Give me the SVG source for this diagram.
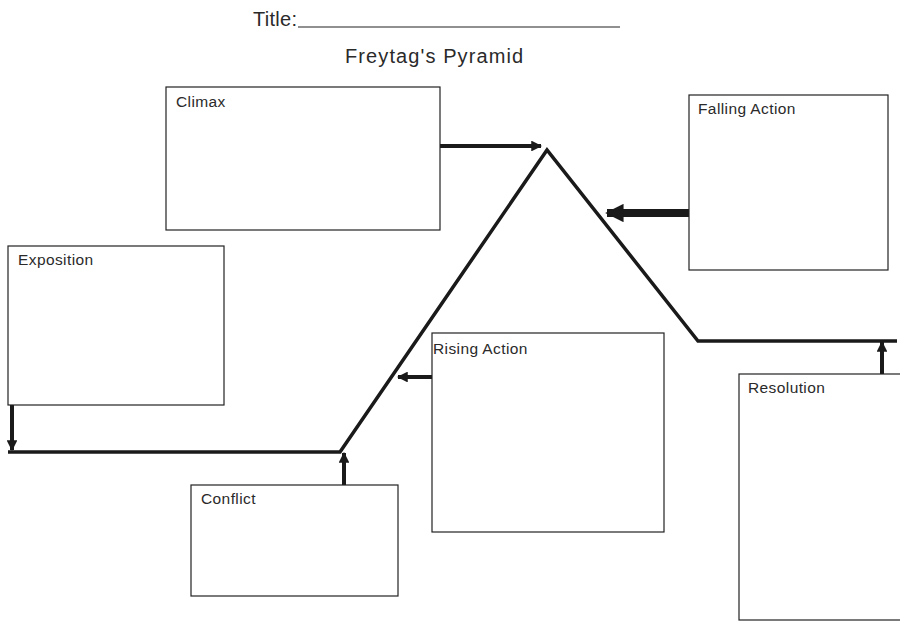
<svg xmlns="http://www.w3.org/2000/svg" width="900" height="621" viewBox="0 0 900 621">
<style>
text{font-family:"Liberation Sans",Arial,sans-serif;fill:#2a2a2a}
.lbl{font-size:15.5px;letter-spacing:0.4px}
.box{fill:#fff;stroke:#222;stroke-width:1.2}
.ar{stroke:#1a1a1a;fill:none}
</style>
<defs>
<marker id="ah" viewBox="0 0 10 10" refX="9" refY="5" markerWidth="2.7" markerHeight="2.7" orient="auto" markerUnits="strokeWidth"><path d="M0,0L10,5L0,10z" fill="#1a1a1a"/></marker>
<marker id="ah2" viewBox="0 0 10 10" refX="9" refY="5" markerWidth="2.3" markerHeight="2.3" orient="auto" markerUnits="strokeWidth"><path d="M0,0L10,5L0,10z" fill="#1a1a1a"/></marker>
</defs>
<rect width="900" height="621" fill="#fff"/>
<g id="title">
<text x="253" y="26" font-size="20" letter-spacing="0.3">Title:</text>
<line x1="298" y1="27" x2="620" y2="27" stroke="#222" stroke-width="1.2"/>
<text x="345" y="63" font-size="20" letter-spacing="1.1">Freytag's Pyramid</text>
</g>
<g id="connectors">
<polyline points="8,452 340,452 547,150 698,341 897,341" fill="none" stroke="#1a1a1a" stroke-width="3.5" stroke-linejoin="miter"/>
<line class="ar" x1="440" y1="146" x2="541" y2="146" stroke-width="4" marker-end="url(#ah)"/>
<line class="ar" x1="689" y1="213" x2="607" y2="213" stroke-width="8" marker-end="url(#ah2)"/>
<line class="ar" x1="12" y1="405" x2="12" y2="450" stroke-width="4" marker-end="url(#ah)"/>
<line class="ar" x1="344" y1="485" x2="344" y2="453" stroke-width="4" marker-end="url(#ah)"/>
<line class="ar" x1="432" y1="377" x2="398" y2="377" stroke-width="4" marker-end="url(#ah)"/>
<line class="ar" x1="882" y1="374" x2="882" y2="342" stroke-width="4" marker-end="url(#ah)"/>
</g>
<g id="climax"><rect class="box" x="166" y="87" width="274" height="143"/><text class="lbl" x="176" y="107">Climax</text></g>
<g id="falling-action"><rect class="box" x="689" y="95" width="199" height="175"/><text class="lbl" x="698" y="114">Falling Action</text></g>
<g id="exposition"><rect class="box" x="8" y="246" width="216" height="159"/><text class="lbl" x="18" y="265">Exposition</text></g>
<g id="rising-action"><rect class="box" x="432" y="333" width="232" height="199"/><text class="lbl" x="433" y="354">Rising Action</text></g>
<g id="conflict"><rect class="box" x="191" y="485" width="207" height="111"/><text class="lbl" x="201" y="504">Conflict</text></g>
<g id="resolution"><rect class="box" x="739" y="374" width="170" height="246"/><text class="lbl" x="748" y="393">Resolution</text></g>
</svg>
